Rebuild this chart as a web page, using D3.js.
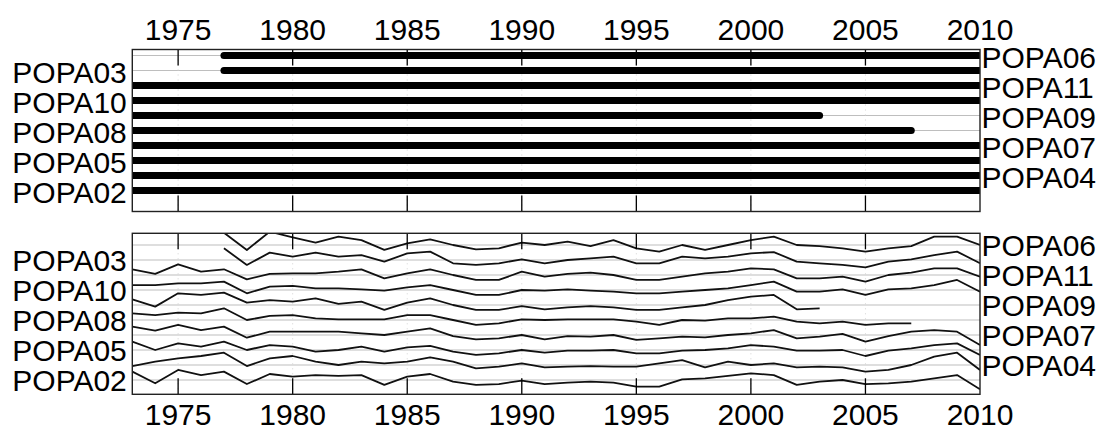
<!DOCTYPE html>
<html>
<head>
<meta charset="utf-8">
<script src="https://cdn.jsdelivr.net/npm/d3@7"></script>
<style>
  html, body { margin: 0; padding: 0; background: #fff; }
  svg { display: block; }
  text { font-family: "Liberation Sans", Arial, sans-serif; font-size: 30px; fill: #000; }
</style>
</head>
<body>
<svg id="chart" width="1102" height="430"></svg>
<script>
// ---------------- DATA ----------------
const years = d3.range(1973, 2011);               // 1973 ... 2010
const xTicks = [1975, 1980, 1985, 1990, 1995, 2000, 2005, 2010];
// series, listed from top row to bottom row
const seriesNames = ["POPA06", "POPA03", "POPA11", "POPA10", "POPA09", "POPA08", "POPA07", "POPA05", "POPA04", "POPA02"];
// standardized ring-width values (one per year, null = no ring)
const popa06 = [null, null, null, null, 0.82, -0.33, 0.89, 0.51, 0.16, 0.56, 0.33, -0.33, 0.11, 0.38, 0, -0.29, -0.22, 0.16, 0, 0.22, -0.07, 0.33, -0.22, -0.44, 0, -0.33, 0, 0.33, 0.56, 0, -0.07, -0.22, -0.44, -0.22, -0.07, 0.56, 0.56, 0];
const popa03 = [null, null, null, null, 0.78, -0.33, 0.49, 0.22, 0.49, 0.22, 0.33, -0.11, 0.44, 0.56, -0.22, -0.33, -0.22, 0.04, -0.22, 0, 0.11, 0.22, -0.22, -0.22, 0.22, 0.11, 0.22, 0.44, 0.53, -0.11, -0.22, -0.33, -0.49, -0.11, 0.04, 0.33, 0.56, -0.22];
const popa11 = [0.38, 0.07, 0.71, 0.22, 0.38, -0.29, 0.07, 0.11, 0.11, 0.22, 0.38, -0.22, 0.11, 0.38, 0, -0.33, -0.33, 0.22, -0.11, 0.07, 0.16, 0, -0.33, -0.33, -0.11, 0.11, 0.22, 0.44, 0.38, -0.22, -0.22, -0.11, -0.44, 0, 0.16, 0.44, 0.44, -0.11];
const popa10 = [0.33, 0.33, 0.44, 0.44, 0.56, -0.22, 0.22, 0.27, 0.11, 0.11, 0.04, -0.04, 0.18, 0.33, 0, -0.33, -0.33, 0, -0.04, 0.04, -0.04, -0.11, -0.22, -0.22, -0.11, 0, 0.11, 0.33, 0.56, -0.11, -0.11, 0.04, -0.33, 0.04, 0.11, 0.33, 0.67, -0.11];
const popa09 = [0.38, -0.11, 0.78, 0.67, 0.82, 0.16, 0.33, 0.22, 0.44, 0.07, 0.22, -0.33, 0.16, 0.44, 0, -0.33, -0.33, -0.07, -0.29, -0.16, -0.07, -0.16, -0.33, -0.33, -0.16, 0, 0.33, 0.56, 0.67, -0.29, -0.22, null, null, null, null, null, null, null];
const popa08 = [0.44, 0.33, 0.49, 0.44, 0.78, 0, 0.27, 0.33, 0.11, 0.04, 0.04, 0.04, 0.33, 0.33, 0, -0.33, -0.22, 0.04, 0, 0.04, 0.04, 0.04, -0.11, -0.33, 0, -0.04, 0.11, 0.11, 0.22, -0.11, -0.22, -0.11, -0.33, -0.22, -0.22, null, null, null];
const popa07 = [0.56, 0.29, 0.67, 0.33, 0.56, -0.18, 0.22, 0.22, 0.22, 0.22, 0.11, 0, 0.22, 0.44, -0.07, -0.29, -0.22, 0, -0.29, -0.07, -0.11, 0, -0.33, -0.22, -0.11, -0.16, 0, 0.11, 0.33, -0.22, -0.11, 0.07, -0.44, -0.07, 0.22, 0.33, 0.22, -0.67];
const popa05 = [0.56, 0, 0.44, 0.22, 0.56, 0, 0.33, 0.22, -0.11, 0, 0.22, -0.11, 0.18, 0.27, -0.11, -0.33, -0.22, 0, -0.18, -0.04, -0.04, 0, -0.22, -0.22, -0.04, 0, 0.11, 0.33, 0.22, -0.04, -0.04, 0, -0.4, -0.04, 0.11, 0.33, 0.44, -0.33];
const popa04 = [-0.07, 0.22, 0.44, 0.6, 0.82, -0.07, 0.44, 0.6, 0.22, 0, 0.22, 0.11, 0.22, 0.51, 0.22, -0.22, -0.11, 0.11, -0.16, -0.11, -0.07, -0.11, -0.11, 0.11, 0.33, -0.16, 0.22, 0, 0.11, -0.16, -0.11, -0.16, -0.44, -0.33, 0, 0.56, 0.82, -0.33];
const popa02 = [0.56, -0.22, 0.67, 0.33, 0.56, -0.27, 0.4, 0.22, 0.33, 0.27, 0.33, -0.33, 0.22, 0.4, -0.11, -0.33, -0.27, -0.04, -0.27, -0.18, -0.11, -0.18, -0.44, -0.44, 0.04, 0.11, 0.27, 0.44, 0.33, -0.33, -0.11, 0, -0.27, -0.22, -0.11, 0.11, 0.33, -0.62];

const seriesValues = [popa06, popa03, popa11, popa10, popa09, popa08, popa07, popa05, popa04, popa02];

// ---------------- LAYOUT ----------------
const svg = d3.select("#chart");
const L = 132.3, R = 980;
const top1 = 49.5, bot1 = 211.5;     // segment panel
const top2 = 233.3, bot2 = 394.3;    // spaghetti panel
const n = seriesNames.length;

const x = d3.scaleLinear().domain([1973, 2010]).range([L, R]);
const y1 = d3.scaleLinear().domain([-0.4, n + 0.4]).range([bot1, top1]);
const y2 = d3.scaleLinear().domain([0, 1]).range([395, 380]);

// row number (1 = bottom, n = top) for series listed top->bottom
const rowOf = i => n - i;

const series = seriesNames.map((name, i) => {
  const pts = years.map((yr, j) => ({ yr, v: seriesValues[i][j] }));
  const valid = pts.filter(p => p.v != null);
  return { name, row: rowOf(i), pts, first: d3.min(valid, p => p.yr), last: d3.max(valid, p => p.yr) };
});

const defs = svg.append("defs");
defs.append("clipPath").attr("id", "clip1").append("rect")
  .attr("x", L).attr("y", top1).attr("width", R - L).attr("height", bot1 - top1);
defs.append("clipPath").attr("id", "clip2").append("rect")
  .attr("x", L).attr("y", top2).attr("width", R - L).attr("height", bot2 - top2);

const gridTicks = xTicks.filter(t => t < 2010);
const tickLen = 16;

function panelFrame(g, yTop, yBot) {
  // vertical dotted grid
  g.append("g").selectAll("line").data(gridTicks).join("line")
    .attr("x1", d => x(d)).attr("x2", d => x(d))
    .attr("y1", yTop).attr("y2", yBot)
    .attr("stroke", "#d3d3d3").attr("stroke-width", 1)
    .attr("stroke-dasharray", "1,4");
}

function ticks(g, yTop, yBot) {
  const tg = g.append("g");
  tg.selectAll("line.t").data(gridTicks).join("line").attr("class", "t")
    .attr("x1", d => x(d)).attr("x2", d => x(d))
    .attr("y1", yTop).attr("y2", yTop + tickLen)
    .attr("stroke", "#000").attr("stroke-width", 1.3);
  tg.selectAll("line.b").data(gridTicks).join("line").attr("class", "b")
    .attr("x1", d => x(d)).attr("x2", d => x(d))
    .attr("y1", yBot).attr("y2", yBot - tickLen)
    .attr("stroke", "#000").attr("stroke-width", 1.3);
}

function box(g, yTop, yBot) {
  g.append("rect").attr("x", L).attr("y", yTop)
    .attr("width", R - L).attr("height", yBot - yTop)
    .attr("fill", "none").attr("stroke", "#222").attr("stroke-width", 1.4);
}

function rowLabels(g, yScale, dy) {
  g.append("g").selectAll("text").data(series).join("text")
    .attr("x", (d, i) => i % 2 === 0 ? R + 1.5 : L - 5.5)
    .attr("y", d => yScale(d.row) + dy)
    .attr("text-anchor", (d, i) => i % 2 === 0 ? "start" : "end")
    .text(d => d.name);
}

// ---------------- TOP PANEL: segment plot ----------------
const g1 = svg.append("g");
const c1 = g1.append("g").attr("clip-path", "url(#clip1)");
c1.append("g").selectAll("line").data(series).join("line")
  .attr("x1", L).attr("x2", R)
  .attr("y1", d => y1(d.row)).attr("y2", d => y1(d.row))
  .attr("stroke", "#bebebe").attr("stroke-width", 1.2);
panelFrame(c1, top1, bot1);
ticks(g1, top1, bot1);
c1.append("g").selectAll("line").data(series).join("line")
  .attr("x1", d => x(d.first)).attr("x2", d => x(d.last))
  .attr("y1", d => y1(d.row)).attr("y2", d => y1(d.row))
  .attr("stroke", "#000").attr("stroke-width", 7)
  .attr("stroke-linecap", "round");
box(g1, top1, bot1);
rowLabels(g1, y1, 12.5);

g1.append("g").selectAll("text").data(xTicks).join("text")
  .attr("x", d => x(d)).attr("y", 39.5)
  .attr("text-anchor", "middle").text(d => d);

// ---------------- BOTTOM PANEL: spaghetti plot ----------------
const g2 = svg.append("g");
const c2 = g2.append("g").attr("clip-path", "url(#clip2)");
c2.append("g").selectAll("line").data(series).join("line")
  .attr("x1", L).attr("x2", R)
  .attr("y1", d => y2(d.row)).attr("y2", d => y2(d.row))
  .attr("stroke", "#bebebe").attr("stroke-width", 1.2);
panelFrame(c2, top2, bot2);

const line = d3.line()
  .defined(p => p.v != null)
  .x(p => x(p.yr));
c2.append("g").selectAll("path").data(series).join("path")
  .attr("d", d => line.y(p => y2(d.row + p.v))(d.pts))
  .attr("fill", "none").attr("stroke", "#111").attr("stroke-width", 1.8)
  .attr("stroke-linejoin", "round");
ticks(g2, top2, bot2);
box(g2, top2, bot2);
rowLabels(g2, y2, 11);

g2.append("g").selectAll("text").data(xTicks).join("text")
  .attr("x", d => x(d)).attr("y", 425)
  .attr("text-anchor", "middle").text(d => d);
</script>
</body>
</html>
